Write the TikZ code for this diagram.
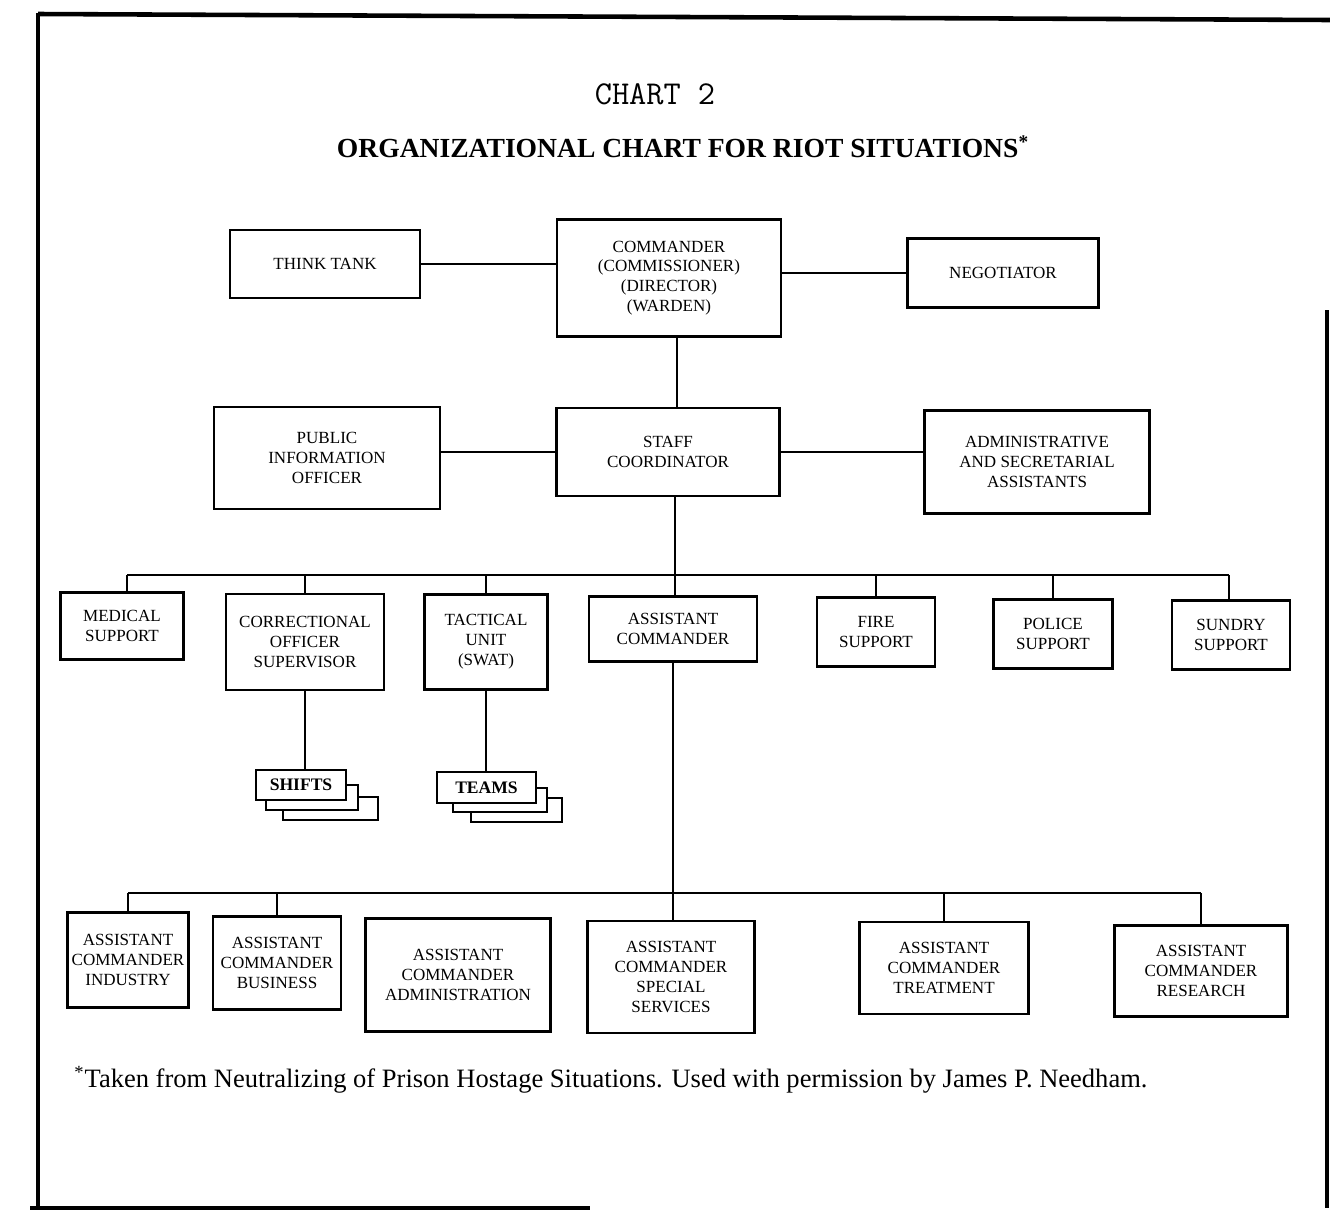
\documentclass[tikz,border=0pt]{standalone}
\usepackage{fontspec}
\setmainfont{Liberation Serif}
\tikzset{
  box/.style={draw, line width=1.5pt, fill=white, align=center, inner sep=0pt,
    font=\fontsize{9.7}{11.3}\selectfont},
  conn/.style={line width=1.3pt},
  frame/.style={line width=2.6pt},
}
\begin{document}
\begin{tikzpicture}[x=0.02cm,y=-0.02cm]
\useasboundingbox (0,0) rectangle (1330,1211);
% frame
\draw[frame] (38,14) -- (1330,20);
\draw[line width=1.8pt] (38,13) -- (38,1208);
\draw[frame] (30,1208) -- (590,1208);
\draw[line width=1.8pt] (1327,310) -- (1327,1208);
% titles
\node (t1) at (655,94) {\ttfamily\fontsize{19}{22}\selectfont CHART 2};
\node (t2) at (683,147) {\bfseries\fontsize{15.7}{17}\selectfont ORGANIZATIONAL CHART FOR RIOT SITUATIONS\textsuperscript{*}};
% top row
\node[box, minimum width=3.8cm, minimum height=1.36cm] (tt) at (325,264) {THINK TANK};
\node[box, minimum width=4.48cm, minimum height=2.34cm] (cmd) at (669,278) {COMMANDER\\(COMMISSIONER)\\(DIRECTOR)\\(WARDEN)};
\node[box, minimum width=3.82cm, minimum height=1.38cm] (neg) at (1003,273) {NEGOTIATOR};
% second row
\node[box, minimum width=4.52cm, minimum height=2.04cm] (pio) at (327,458) {PUBLIC\\INFORMATION\\OFFICER};
\node[box, minimum width=4.46cm, minimum height=1.76cm] (sc) at (668,452) {STAFF\\COORDINATOR};
\node[box, minimum width=4.5cm, minimum height=2.06cm] (adm) at (1037,462) {ADMINISTRATIVE\\AND SECRETARIAL\\ASSISTANTS};
% third row
\coordinate (busA) at (0,575);
\node[box, minimum width=2.46cm, minimum height=1.34cm] (med) at (122,626) {MEDICAL\\SUPPORT};
\node[box, minimum width=3.16cm, minimum height=1.92cm] (cos) at (305,642) {CORRECTIONAL\\OFFICER\\SUPERVISOR};
\node[box, minimum width=2.46cm, minimum height=1.9cm] (tac) at (486,642) {TACTICAL\\UNIT\\(SWAT)};
\node[box, minimum width=3.36cm, minimum height=1.3cm] (ac) at (673,629) {ASSISTANT\\COMMANDER};
\node[box, minimum width=2.36cm, minimum height=1.38cm] (fire) at (876,632) {FIRE\\SUPPORT};
\node[box, minimum width=2.38cm, minimum height=1.38cm] (pol) at (1053,634) {POLICE\\SUPPORT};
\node[box, minimum width=2.36cm, minimum height=1.38cm] (sun) at (1231,635) {SUNDRY\\SUPPORT};
% stacks
\node[box, minimum width=1.9cm, minimum height=0.46cm] (shifts3) at (330.5,808.5) {};
\node[box, minimum width=1.84cm, minimum height=0.5cm] (shifts2) at (312,797.5) {};
\node[box, minimum width=1.8cm, minimum height=0.6cm, font=\fontsize{10}{11}\selectfont\bfseries] (shifts) at (301,785) {SHIFTS};
\node[box, minimum width=1.82cm, minimum height=0.48cm] (teams3) at (516.5,810) {};
\node[box, minimum width=1.88cm, minimum height=0.48cm] (teams2) at (500,800) {};
\node[box, minimum width=1.98cm, minimum height=0.62cm, font=\fontsize{10}{11}\selectfont\bfseries] (teams) at (486.5,787.5) {TEAMS};
% bottom row
\coordinate (busB) at (0,893);
\node[box, minimum width=2.42cm, minimum height=1.9cm] (ind) at (128,960) {ASSISTANT\\COMMANDER\\INDUSTRY};
\node[box, minimum width=2.56cm, minimum height=1.86cm] (bsn) at (277,963) {ASSISTANT\\COMMANDER\\BUSINESS};
\node[box, minimum width=3.7cm, minimum height=2.26cm] (adm2) at (458,975) {ASSISTANT\\COMMANDER\\ADMINISTRATION};
\node[box, minimum width=3.34cm, minimum height=2.24cm] (ss) at (671,977) {ASSISTANT\\COMMANDER\\SPECIAL\\SERVICES};
\node[box, minimum width=3.38cm, minimum height=1.84cm] (tr) at (944,968) {ASSISTANT\\COMMANDER\\TREATMENT};
\node[box, minimum width=3.46cm, minimum height=1.82cm] (res) at (1201,971) {ASSISTANT\\COMMANDER\\RESEARCH};
% footnote
\node (fn) at (611,1080) {\fontsize{15.1}{17}\selectfont \textsuperscript{*}Taken from Neutralizing of Prison Hostage Situations. Used with permission by James P. Needham.};
% connectors
\draw[conn] (tt.east) -- (tt.east -| cmd.west);
\draw[conn] (cmd.east |- neg.west) -- (neg.west);
\draw[conn] ([xshift=0.16cm]cmd.south) -- ([xshift=0.16cm]cmd.south |- sc.north);
\draw[conn] (sc.west -| pio.east) -- (sc.west);
\draw[conn] (sc.east) -- (sc.east -| adm.west);
\draw[conn] ([xshift=0.14cm]sc.south) -- ([xshift=0.14cm]sc.south |- ac.north);
\draw[conn] ([xshift=0.1cm]med.north |- busA) -- ([xshift=-0.04cm]sun.north |- busA);
\foreach \n/\dx in {med/0.1cm,cos/0cm,tac/0cm,fire/0cm,pol/0cm,sun/-0.04cm}
  \draw[conn] ([xshift=\dx]\n.north) -- ([xshift=\dx]\n.north |- busA);
\draw[conn] (cos.south) -- (cos.south |- shifts.north);
\draw[conn] (tac.south) -- (tac.south |- teams.north);
\draw[conn] (ac.south) -- (ac.south |- ss.north);
\draw[conn] (ind.north |- busB) -- (res.north |- busB);
\foreach \n in {ind,bsn,tr,res}
  \draw[conn] (\n.north) -- (\n.north |- busB);
\end{tikzpicture}
\end{document}
